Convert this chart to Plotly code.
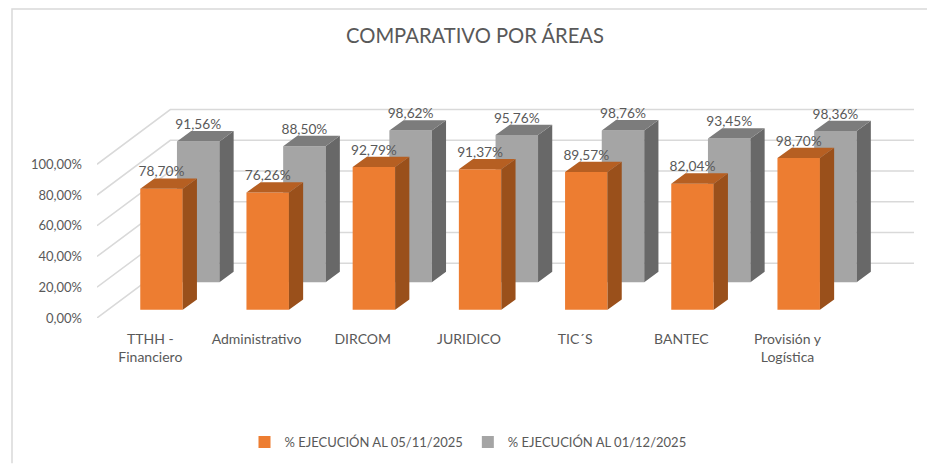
import plotly.graph_objects as go

categories = ["TTHH -<br>Financiero", "Administrativo", "DIRCOM", "JURIDICO", "TIC´S", "BANTEC", "Provisión y<br>Logística"]
series_a_name = "% EJECUCIÓN AL 05/11/2025"
series_b_name = "% EJECUCIÓN AL 01/12/2025"
series_a = [78.70, 76.26, 92.79, 91.37, 89.57, 82.04, 98.70]
series_b = [91.56, 88.50, 98.62, 95.76, 98.76, 93.45, 98.36]
y_ticks = [0, 20, 40, 60, 80, 100]
title_text = "COMPARATIVO POR ÁREAS"

W, H = 927, 465
FONT = "Lato"
TXT = "#595959"
ORANGE = ("#ED7D31", "#9A501B", "#B65F22")
GRAY = ("#A5A5A5", "#686868", "#7C7C7C")

# pixel scale of the pseudo-3D projection
PX_X = 106.2
PX_Y = 1.546
LEFT, RIGHT, TOP, BOTTOM = 97.0, 917.0, 91.5, 318.8
CENTER0 = 161.5
x_range = [(LEFT - CENTER0) / PX_X, (RIGHT - CENTER0) / PX_X]
y_range = [0, (BOTTOM - TOP) / PX_Y]
ux = lambda px: px / PX_X
uy = lambda px: px / PX_Y

BAR_W = 0.40
SIDE_DX, SIDE_DY = ux(14.2), uy(10.4)
BASE_A = uy(8.3)
BASE_B = uy(36.0)
SHIFT_B = ux(36.7)
WALL_DX, WALL_DY = ux(73.3), uy(55.0)
LABEL_GAP = uy(15.8)
xs = list(range(len(categories)))


def faces(values, base, shift):
    sx, sy, tx, ty = [], [], [], []
    for i, v in zip(xs, values):
        l = i + shift - BAR_W / 2
        r = i + shift + BAR_W / 2
        b, t = base, base + v
        sx += [r, r + SIDE_DX, r + SIDE_DX, r, r, None]
        sy += [b, b + SIDE_DY, t + SIDE_DY, t, b, None]
        tx += [l, r, r + SIDE_DX, l + SIDE_DX, l, None]
        ty += [t, t, t + SIDE_DY, t + SIDE_DY, t, None]
    return (sx, sy), (tx, ty)


def series_traces(name, values, base, shift, cols, xa, ya):
    side, top = faces(values, base, shift)
    poly = dict(mode="lines", fill="toself", line=dict(width=0), showlegend=False,
                hoverinfo="skip", xaxis=xa, yaxis=ya)
    return [
        go.Bar(name=name, x=[i + shift for i in xs], y=values, base=base, width=BAR_W,
               marker=dict(color=cols[0], line=dict(width=0)), xaxis=xa, yaxis=ya),
        go.Scatter(x=side[0], y=side[1], fillcolor=cols[1], **poly),
        go.Scatter(x=top[0], y=top[1], fillcolor=cols[2], **poly),
    ]


fig = go.Figure()
gray = series_traces(series_b_name, series_b, BASE_B, SHIFT_B, GRAY, "x", "y")
orange = series_traces(series_a_name, series_a, BASE_A, 0, ORANGE, "x2", "y2")
fig.add_traces(orange[:1] + gray + orange[1:])


def pct(v):
    return f"{v:.2f}".replace(".", ",") + "%"


fig.add_trace(go.Scatter(
    x=[i + SHIFT_B for i in xs] + xs,
    y=[v + BASE_B + LABEL_GAP for v in series_b] + [v + BASE_A + LABEL_GAP for v in series_a],
    text=[pct(v) for v in series_b] + [pct(v) for v in series_a],
    mode="text", textposition="middle center",
    textfont=dict(family=FONT, size=13.7, color=TXT),
    showlegend=False, hoverinfo="skip", xaxis="x2", yaxis="y2", cliponaxis=False,
))

shapes = []
for v in y_ticks:
    x0 = x_range[0]
    x1 = x0 + WALL_DX
    x2 = ux(914 - CENTER0)
    y1 = v + WALL_DY
    shapes.append(dict(type="path", xref="x", yref="y", layer="below",
                       path=f"M {x0},{v} L {x1},{y1} L {x2},{y1}",
                       line=dict(color="#D9D9D9", width=1.5)))

# thin frame of the chart area (left and top edges only)
px = lambda p: (p - LEFT) / (RIGHT - LEFT)
py = lambda p: (BOTTOM - p) / (BOTTOM - TOP)
shapes.append(dict(type="path", xref="paper", yref="paper", layer="below",
                   path=f"M {px(12)},{py(H)} L {px(12)},{py(8)} L {px(W)},{py(8)}",
                   line=dict(color="#D9D9D9", width=1.5)))

fig.update_layout(
    width=W, height=H, autosize=False,
    paper_bgcolor="white", plot_bgcolor="white",
    margin=dict(l=LEFT, r=W - RIGHT, t=TOP, b=H - BOTTOM, pad=0),
    barmode="overlay", shapes=shapes,
    font=dict(family=FONT, color=TXT, size=14),
    title=dict(text=title_text, x=475 / W, xanchor="center", y=1 - 36 / H, yanchor="middle",
               font=dict(family=FONT, size=20.2, color=TXT)),
    xaxis=dict(range=x_range, tickmode="array", tickvals=[i - 0.105 for i in xs], ticktext=categories,
               showgrid=False, zeroline=False, showline=False, ticks="", ticklabelstandoff=11,
               tickfont=dict(family=FONT, size=14, color=TXT)),
    yaxis=dict(range=y_range, tickmode="array", tickvals=y_ticks,
               ticktext=[pct(v) for v in y_ticks],
               showgrid=False, zeroline=False, showline=False, ticks="", ticklabelstandoff=14,
               tickfont=dict(family=FONT, size=13, color=TXT)),
    xaxis2=dict(range=x_range, overlaying="x", anchor="y2", visible=False),
    yaxis2=dict(range=y_range, overlaying="y", anchor="x2", visible=False),
    showlegend=True,
    legend=dict(orientation="h", x=px(468), xanchor="center",
                y=py(442), yanchor="middle",
                font=dict(family=FONT, size=13, color=TXT), itemwidth=30,
                traceorder="normal"),
)
fig.write_html("out.html", post_script="document.body.style.margin='0';",
               config=dict(displayModeBar=False))
